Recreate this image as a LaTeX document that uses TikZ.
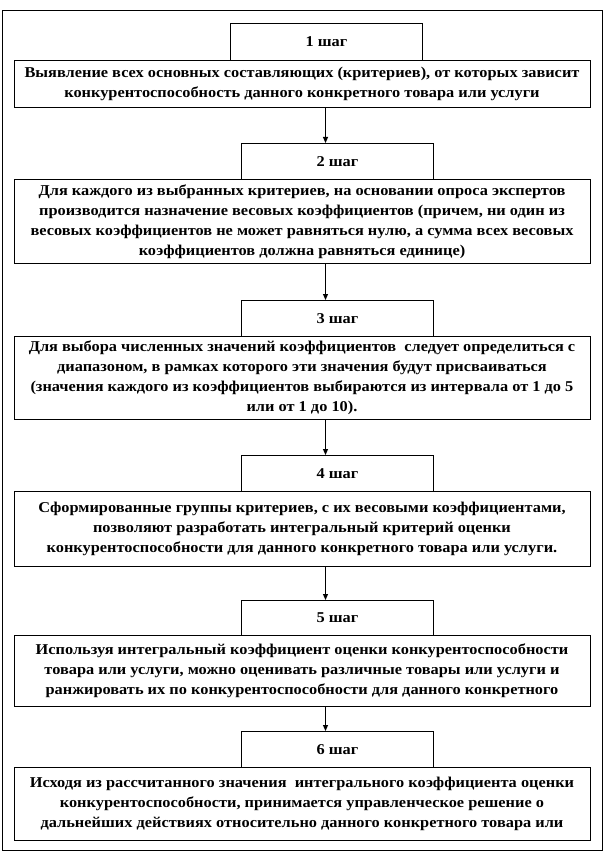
\documentclass[tikz,border=0pt]{standalone}
\usepackage{fontspec}
\setmainfont{Liberation Serif}
\newfontfamily\wideserif[FakeStretch=1.09]{Liberation Serif}
\usetikzlibrary{arrows.meta}
\begin{document}
\begin{tikzpicture}[x=1pt,y=-1pt,
  box/.style={draw, line width=1pt, inner sep=0pt, anchor=north west, align=center,
    font=\wideserif\bfseries\fontsize{15}{20}\selectfont},
  head/.style={box, minimum width=192pt, minimum height=36pt},
  cont/.style={box, minimum width=576pt},
  arr/.style={line width=1pt, -{Triangle[length=6pt,width=5pt]}}]
\path[use as bounding box] (0,0) rectangle (613,853);
\draw[line width=1pt] (2,11) rectangle (602,850);
\coordinate (ax) at (325.5,0);

\node[head, minimum height=37pt] (h1) at (230,23) {1 шаг};
\node[cont, minimum height=47pt] (c1) at (13.5,60) {Выявление всех основных составляющих (критериев), от которых зависит\\ конкурентоспособность данного конкретного товара или услуги};

\node[head] (h2) at (241,143) {2 шаг};
\node[cont, minimum height=84pt] (c2) at (13.5,179) {Для каждого из выбранных критериев, на основании опроса экспертов\\ производится назначение весовых коэффициентов (причем, ни один из\\ весовых коэффициентов не может равняться нулю, а сумма всех весовых\\ коэффициентов должна равняться единице)};

\node[head] (h3) at (241,300) {3 шаг};
\node[cont, minimum height=83pt] (c3) at (13.5,336) {Для выбора численных значений коэффициентов\ \ следует определиться с\\ диапазоном, в рамках которого эти значения будут присваиваться\\ (значения каждого из коэффициентов выбираются из интервала от 1 до 5\\ или от 1 до 10).};

\node[head] (h4) at (241,455) {4 шаг};
\node[cont, minimum height=75pt] (c4) at (13.5,491) {Сформированные группы критериев, с их весовыми коэффициентами,\\ позволяют разработать интегральный критерий оценки\\ конкурентоспособности для данного конкретного товара или услуги.};

\node[head, minimum height=35pt] (h5) at (241,600) {5 шаг};
\node[cont, minimum height=71pt] (c5) at (13.5,635) {Используя интегральный коэффициент оценки конкурентоспособности\\ товара или услуги, можно оценивать различные товары или услуги и\\ ранжировать их по конкурентоспособности для данного конкретного};

\node[head] (h6) at (241,731) {6 шаг};
\node[cont, minimum height=73pt] (c6) at (13.5,767) {Исходя из рассчитанного значения\ \ интегрального коэффициента оценки\\ конкурентоспособности, принимается управленческое решение о\\ дальнейших действиях относительно данного конкретного товара или};

\draw[arr] (c1.south -| ax) -- (h2.north -| ax);
\draw[arr] (c2.south -| ax) -- (h3.north -| ax);
\draw[arr] (c3.south -| ax) -- (h4.north -| ax);
\draw[arr] (c4.south -| ax) -- (h5.north -| ax);
\draw[arr] (c5.south -| ax) -- (h6.north -| ax);
\end{tikzpicture}
\end{document}
